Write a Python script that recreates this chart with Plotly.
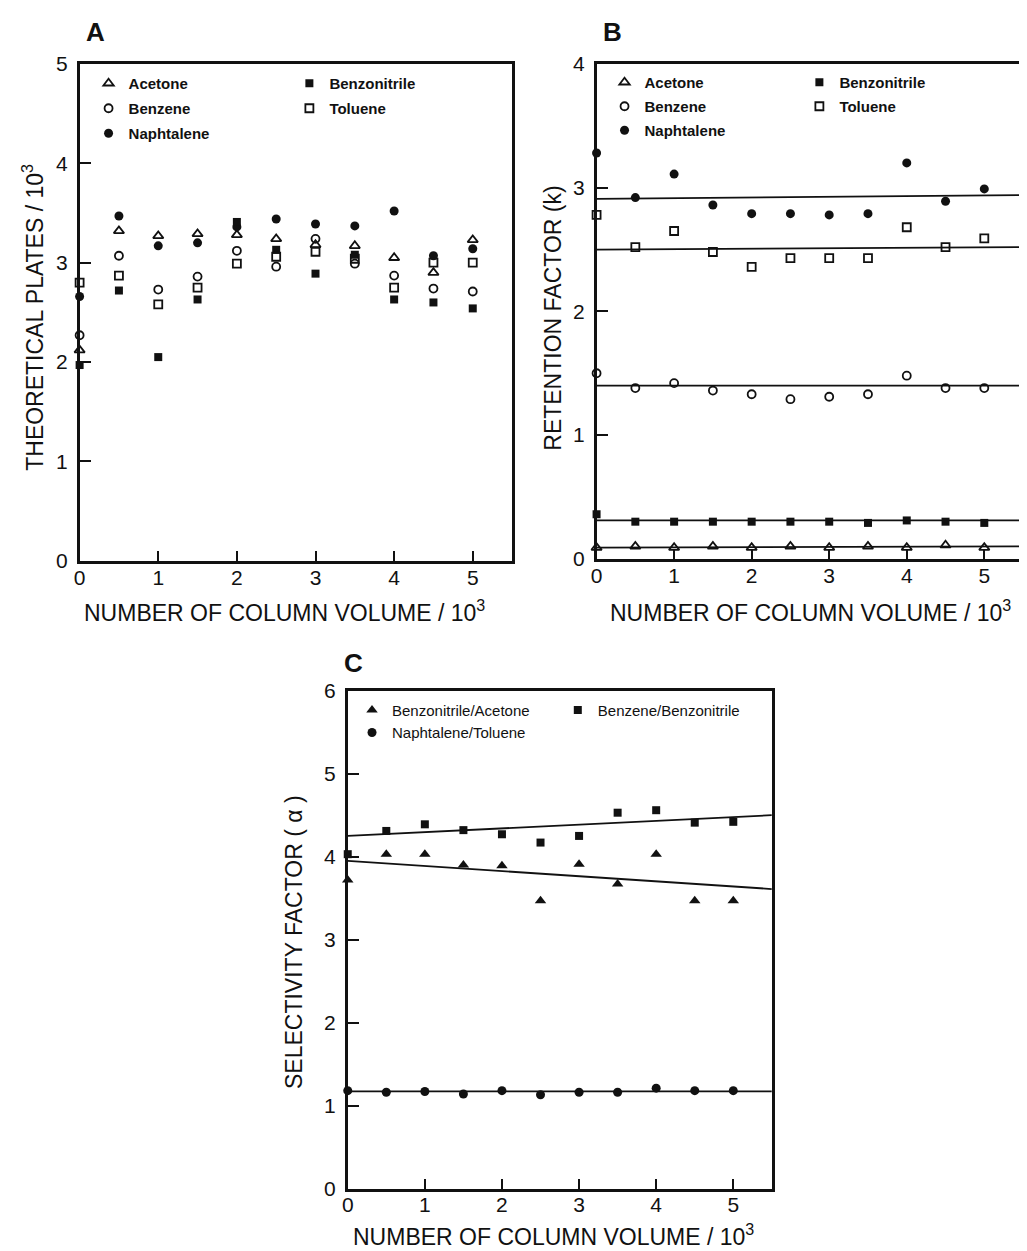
import plotly.graph_objects as go

# ---------------- data ----------------
cv = [0, 0.5, 1, 1.5, 2, 2.5, 3, 3.5, 4, 4.5, 5]  # number of column volume / 10^3

# Panel A: theoretical plates / 10^3
plates_acetone = [2.12, 3.32, 3.27, 3.29, 3.28, 3.24, 3.18, 3.17, 3.05, 2.90, 3.23]
plates_benzonitrile = [1.97, 2.72, 2.05, 2.63, 3.41, 3.13, 2.89, 3.08, 2.63, 2.60, 2.54]
plates_benzene = [2.27, 3.07, 2.73, 2.86, 3.12, 2.96, 3.24, 2.99, 2.87, 2.74, 2.71]
plates_toluene = [2.80, 2.87, 2.58, 2.75, 2.99, 3.06, 3.11, 3.04, 2.75, 3.00, 3.00]
plates_naphtalene = [2.66, 3.47, 3.17, 3.20, 3.36, 3.44, 3.39, 3.37, 3.52, 3.07, 3.14]

# Panel B: retention factor (k)
ret_acetone = [0.09, 0.10, 0.09, 0.10, 0.09, 0.10, 0.09, 0.10, 0.09, 0.11, 0.09]
ret_benzonitrile = [0.36, 0.30, 0.30, 0.30, 0.30, 0.30, 0.30, 0.29, 0.31, 0.30, 0.29]
ret_benzene = [1.50, 1.38, 1.42, 1.36, 1.33, 1.29, 1.31, 1.33, 1.48, 1.38, 1.38]
ret_toluene = [2.78, 2.52, 2.65, 2.48, 2.36, 2.43, 2.43, 2.43, 2.68, 2.52, 2.59]
ret_naphtalene = [3.28, 2.92, 3.11, 2.86, 2.79, 2.79, 2.78, 2.79, 3.20, 2.89, 2.99]
# fitted lines (value at x = 0 and at x = 5.5)
fitB_start = [0.09, 0.31, 1.40, 2.50, 2.91]
fitB_end = [0.10, 0.31, 1.40, 2.52, 2.94]

# Panel C: selectivity factor (alpha)
sel_bzn_acet = [3.72, 4.03, 4.03, 3.90, 3.89, 3.47, 3.91, 3.67, 4.03, 3.47, 3.47]
sel_benz_bzn = [4.03, 4.31, 4.39, 4.32, 4.27, 4.17, 4.25, 4.53, 4.56, 4.41, 4.42]
sel_naph_tol = [1.18, 1.16, 1.17, 1.14, 1.18, 1.13, 1.16, 1.16, 1.21, 1.18, 1.18]
fitC_start = [3.95, 4.25, 1.17]
fitC_end = [3.61, 4.50, 1.17]

fit_x = [0, 5.5]
x_ticks = [0, 1, 2, 3, 4, 5]

# ---------------- figure ----------------
W, H = 1027, 1251
# mapping from target picture pixels to figure pixels (compensates page offset)
SX, OX = 1.0, 11.0
SY, OY = 0.982, 19.0
FONT = "Liberation Sans, Arial, sans-serif"
BLACK = "#111111"

fig = go.Figure()


def fx(p):
    return (p - OX) / SX


def fy(p):
    return (p - OY) / SY


def px_x(p):
    return fx(p) / W


def px_y(p):
    return 1 - fy(p) / H


def add_pts(x, y, name, symbol, size, xa, ya, legend, group, open_=False):
    fig.add_trace(go.Scatter(
        x=x, y=y, mode="markers", name=name,
        xaxis=xa, yaxis=ya, legend=legend, legendgroup=group,
        cliponaxis=False,
        marker=dict(symbol=symbol, size=size, color=BLACK,
                    line=dict(color=BLACK, width=1.8 if open_ else 0)),
    ))


def add_line(y0, y1, xa, ya):
    fig.add_trace(go.Scatter(
        x=fit_x, y=[y0, y1], mode="lines", showlegend=False,
        xaxis=xa, yaxis=ya, line=dict(color=BLACK, width=1.8),
        hoverinfo="skip",
    ))


# Panel A
add_pts(cv, plates_acetone, "Acetone", "triangle-up-open", 9, "x", "y", "legend", "a1", True)
add_pts(cv, plates_benzene, "Benzene", "circle-open", 8, "x", "y", "legend", "a2", True)
add_pts(cv, plates_naphtalene, "Naphtalene", "circle", 9, "x", "y", "legend", "a3")
add_pts(cv, plates_benzonitrile, "Benzonitrile", "square", 8, "x", "y", "legend2", "a4")
add_pts(cv, plates_toluene, "Toluene", "square-open", 8, "x", "y", "legend2", "a5", True)

# Panel B
for y0, y1 in zip(fitB_start, fitB_end):
    add_line(y0, y1, "x2", "y2")
add_pts(cv, ret_acetone, "Acetone", "triangle-up-open", 9, "x2", "y2", "legend3", "b1", True)
add_pts(cv, ret_benzene, "Benzene", "circle-open", 8, "x2", "y2", "legend3", "b2", True)
add_pts(cv, ret_naphtalene, "Naphtalene", "circle", 9, "x2", "y2", "legend3", "b3")
add_pts(cv, ret_benzonitrile, "Benzonitrile", "square", 8, "x2", "y2", "legend4", "b4")
add_pts(cv, ret_toluene, "Toluene", "square-open", 8, "x2", "y2", "legend4", "b5", True)

# Panel C
for y0, y1 in zip(fitC_start, fitC_end):
    add_line(y0, y1, "x3", "y3")
add_pts(cv, sel_bzn_acet, "Benzonitrile/Acetone", "triangle-up", 10, "x3", "y3", "legend5", "c1")
add_pts(cv, sel_naph_tol, "Naphtalene/Toluene", "circle", 9, "x3", "y3", "legend5", "c2")
add_pts(cv, sel_benz_bzn, "Benzene/Benzonitrile", "square", 8, "x3", "y3", "legend6", "c3")


def xaxis(x0, x1, anchor, xmax):
    return dict(domain=[px_x(x0), min(px_x(x1), 1.0)], anchor=anchor, range=[0, xmax],
                tickvals=x_ticks,
                showgrid=False, zeroline=False, showline=True, mirror=True,
                linecolor=BLACK, linewidth=2.5, ticks="inside", ticklen=10,
                tickwidth=2, tickcolor=BLACK, ticklabelstandoff=-4,
                tickfont=dict(family=FONT, size=21, color=BLACK))


def yaxis(y0, y1, anchor, ymax, mirror=True):
    return dict(domain=[px_y(y1), px_y(y0)], anchor=anchor, range=[0, ymax],
                tickvals=list(range(0, ymax + 1)),
                showgrid=False, zeroline=False, showline=True, mirror=mirror,
                linecolor=BLACK, linewidth=2.5, ticks="inside", ticklen=12,
                tickwidth=2, tickcolor=BLACK, ticklabelstandoff=5,
                tickfont=dict(family=FONT, size=21, color=BLACK))


def legend(xp, yp, size, gap, weight="bold"):
    return dict(x=px_x(xp), y=px_y(yp), xanchor="left", yanchor="top",
                bgcolor="rgba(0,0,0,0)", borderwidth=0,
                tracegroupgap=gap, traceorder="grouped",
                font=dict(family=FONT, size=size, color=BLACK, weight=weight))


# Panel B: the right edge runs off the picture (78 px per unit)
B_RIGHT = 1027
b_xmax = (B_RIGHT - 597) / 78.0

fig.update_layout(
    width=W, height=H, autosize=False,
    margin=dict(l=0, r=0, t=0, b=0),
    paper_bgcolor="white", plot_bgcolor="white",
    xaxis=xaxis(77, 512, "y", 5.5),
    yaxis=yaxis(63, 560, "x", 5),
    xaxis2=xaxis(597, B_RIGHT, "y2", b_xmax),
    yaxis2=yaxis(63, 558, "x2", 4, mirror=False),
    xaxis3=xaxis(346.7, 773.3, "y3", 5.5),
    yaxis3=yaxis(690, 1188, "x3", 6),
    legend=legend(86, 66, 15, 2.5),
    legend2=legend(288, 66, 15, 2.5),
    legend3=legend(605, 65, 15, 1.5),
    legend4=legend(801, 65, 15, 1.5),
    legend5=legend(351, 693, 15, 0, "normal"),
    legend6=legend(558, 693, 15, 0, "normal"),
    showlegend=True,
)

ann = []
title_font = dict(family=FONT, size=23, color=BLACK)
ann.append(dict(text="THEORETICAL PLATES / 10<sup>3</sup>", x=px_x(30), y=px_y(316),
                textangle=-90, font=title_font))
ann.append(dict(text="NUMBER OF COLUMN VOLUME / 10<sup>3</sup>", x=px_x(283), y=px_y(610),
                font=title_font))
ann.append(dict(text="RETENTION FACTOR (k)", x=px_x(553), y=px_y(317),
                textangle=-90, font=title_font))
ann.append(dict(text="NUMBER OF COLUMN VOLUME / 10<sup>3</sup>", x=px_x(812), y=px_y(610),
                font=title_font))
ann.append(dict(text="SELECTIVITY FACTOR ( α )", x=px_x(292), y=px_y(941),
                textangle=-90, font=title_font))
ann.append(dict(text="NUMBER OF COLUMN VOLUME / 10<sup>3</sup>", x=px_x(554), y=px_y(1234),
                font=title_font))
letter_font = dict(family=FONT, size=26, color=BLACK, weight="bold")
ann.append(dict(text="A", x=px_x(93), y=px_y(31), font=letter_font))
ann.append(dict(text="B", x=px_x(613), y=px_y(31), font=letter_font))
ann.append(dict(text="C", x=px_x(352), y=px_y(662), font=letter_font))
for a in ann:
    a.update(xref="paper", yref="paper", showarrow=False, xanchor="center", yanchor="middle")
fig.update_layout(annotations=ann)

fig.write_html("out.html")
